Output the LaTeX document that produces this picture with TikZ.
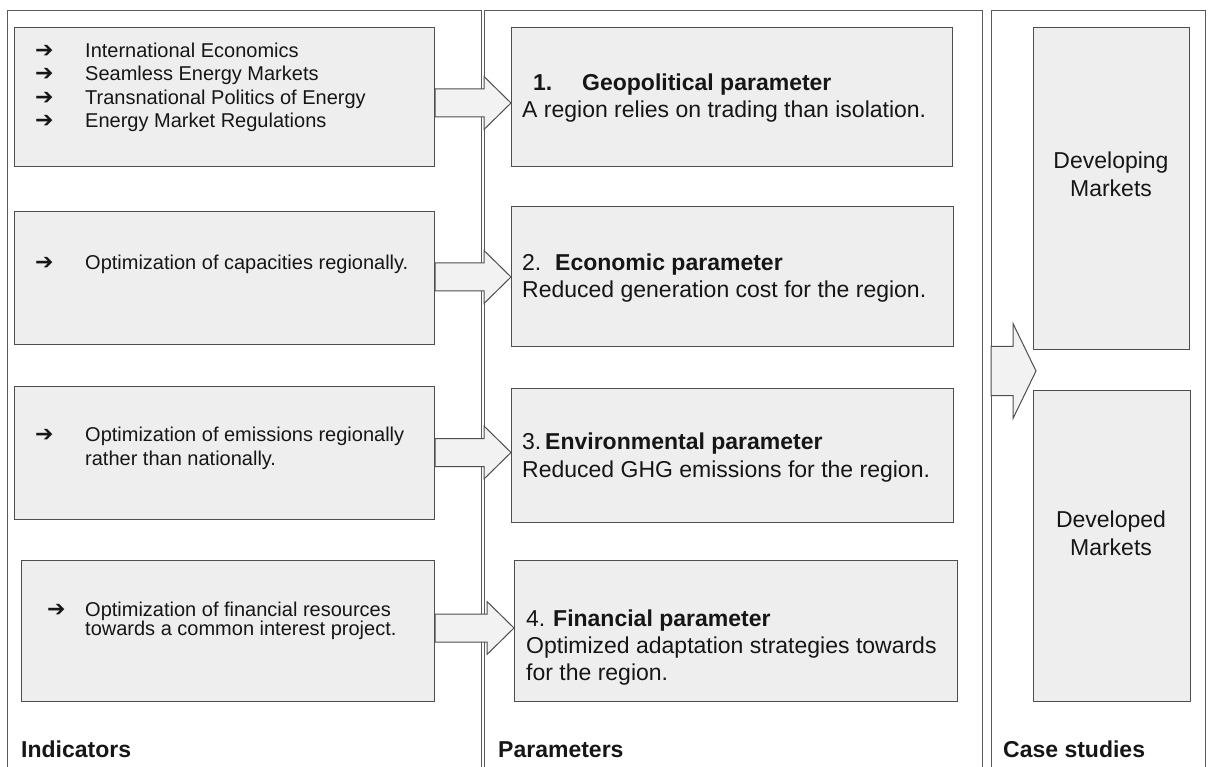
\documentclass[tikz,border=0pt]{standalone}
\usepackage{fontspec}
\setmainfont{Liberation Sans}
\newfontfamily\symfont{DejaVu Sans}
\usetikzlibrary{calc}
\definecolor{boxfill}{RGB}{238,238,238}
\definecolor{arrfill}{RGB}{242,242,242}
\definecolor{edge}{RGB}{78,78,78}
\definecolor{coledge}{RGB}{90,90,90}
\definecolor{ink}{RGB}{22,22,22}
\newcommand\blockarrow[5]{%
  \draw[barrow] ($(#1)+(0,-#3)$) -- ($(#2)+(-#5,-#3)$) -- ($(#2)+(-#5,-#4)$) -- (#2)
    -- ($(#2)+(-#5,#4)$) -- ($(#2)+(-#5,#3)$) -- ($(#1)+(0,#3)$) -- cycle;}
\tikzset{
  box/.style={draw=edge, fill=boxfill, line width=1.1pt, inner sep=0pt, anchor=north west},
  colline/.style={draw=coledge, line width=0.9pt},
  barrow/.style={draw=edge, fill=arrfill, line width=1pt, line join=miter},
  itext/.style={font=\fontsize{20}{24}\selectfont, text=ink, anchor=base west, inner sep=0pt},
  ptext/.style={font=\fontsize{23}{27}\selectfont, text=ink, anchor=base west, inner sep=0pt},
  btext/.style={font=\fontsize{23}{27}\selectfont\bfseries, text=ink, anchor=base west, inner sep=0pt},
  symb/.style={font=\symfont\bfseries\fontsize{22}{24}\selectfont, text=ink, anchor=base west, inner sep=0pt},
}
\begin{document}
\begin{tikzpicture}[x=1pt,y=-1pt]
\useasboundingbox (0,0) rectangle (1208,767);
% columns
\draw[colline] (7,767) -- (7,10) -- (481,10) -- (481,767);
\draw[colline] (484,767) -- (484,10) -- (982,10) -- (982,767);
\draw[colline] (991,767) -- (991,10) -- (1205,10) -- (1205,767);

% indicator boxes
\node[box, minimum width=420pt, minimum height=139pt] (i1) at (14,27) {};
\node[box, minimum width=420pt, minimum height=133pt] (i2) at (14,211) {};
\node[box, minimum width=420pt, minimum height=133pt] (i3) at (14,386) {};
\node[box, minimum width=413pt, minimum height=141pt] (i4) at (21,560) {};

% parameter boxes
\node[box, minimum width=441pt, minimum height=139pt] (p1) at (511,27) {};
\node[box, minimum width=442pt, minimum height=140pt] (p2) at (511,206) {};
\node[box, minimum width=442pt, minimum height=134pt] (p3) at (511,388) {};
\node[box, minimum width=443pt, minimum height=141pt] (p4) at (514,560) {};

% case boxes
\node[box, minimum width=156pt, minimum height=322pt] (dev) at (1033,27) {};
\node[box, minimum width=157pt, minimum height=311pt] (dvd) at (1033,390) {};

% indicator texts
\node[symb] (i1s1) at (35,57.5) {➔};
\node[symb] (i1s2) at (35,81) {➔};
\node[symb] (i1s3) at (35,104.5) {➔};
\node[symb] (i1s4) at (35,128) {➔};
\node[itext] (i1t1) at (85,57.5) {International Economics};
\node[itext] (i1t2) at (85,81) {Seamless Energy Markets};
\node[itext] (i1t3) at (85,104.5) {Transnational Politics of Energy};
\node[itext] (i1t4) at (85,128) {Energy Market Regulations};

\node[symb] (i2s) at (35,270) {➔};
\node[itext] (i2t) at (85,270) {Optimization of capacities regionally.};

\node[symb] (i3s) at (35,441.5) {➔};
\node[itext] (i3t1) at (85,441.5) {Optimization of emissions regionally};
\node[itext] (i3t2) at (85,465) {rather than nationally.};

\node[symb] (i4s) at (47,616) {➔};
\node[itext] (i4t1) at (85,616) {Optimization of financial resources};
\node[itext] (i4t2) at (85,635) {towards a common interest project.};

% parameter texts
\node[btext] (p1n) at (533,91) {1.};
\node[btext] (p1h) at (582,91) {Geopolitical parameter};
\node[ptext] (p1t) at (522,118) {A region relies on trading than isolation.};

\node[ptext] (p2n) at (522,271) {2.};
\node[btext] (p2h) at (555,271) {Economic parameter};
\node[ptext] (p2t) at (522,298) {Reduced generation cost for the region.};

\node[ptext] (p3n) at (522,449) {3.};
\node[btext] (p3h) at (545,449) {Environmental parameter};
\node[ptext] (p3t) at (522,477) {Reduced GHG emissions for the region.};

\node[ptext] (p4n) at (526,626) {4.};
\node[btext] (p4h) at (553,626) {Financial parameter};
\node[ptext] (p4t1) at (526,653) {Optimized adaptation strategies towards};
\node[ptext] (p4t2) at (526,680) {for the region.};

% case texts
\node[ptext, anchor=base] (devt1) at (1111,169) {Developing};
\node[ptext, anchor=base] (devt2) at (1111,197) {Markets};
\node[ptext, anchor=base] (dvdt1) at (1111,527) {Developed};
\node[ptext, anchor=base] (dvdt2) at (1111,555) {Markets};

% column labels
\node[btext] (lind) at (21,757) {Indicators};
\node[btext] (lpar) at (498,757) {Parameters};
\node[btext] (lcase) at (1003,757) {Case studies};

% block arrows
\coordinate (a1) at (0,103);
\coordinate (a2) at (0,277);
\coordinate (a3) at (0,452.5);
\coordinate (a4) at (0,628);
\coordinate (s1) at (i1.east |- a1); \coordinate (t1) at (p1.west |- a1);
\coordinate (s2) at (i2.east |- a2); \coordinate (t2) at (p2.west |- a2);
\coordinate (s3) at (i3.east |- a3); \coordinate (t3) at (p3.west |- a3);
\coordinate (s4) at (i4.east |- a4); \coordinate (t4) at (p4.west |- a4);
\blockarrow{s1}{t1}{14}{26.5}{27}
\blockarrow{s2}{t2}{14}{26.5}{27}
\blockarrow{s3}{t3}{14}{26.5}{27}
\blockarrow{s4}{t4}{14}{26.5}{27}
\coordinate (c0) at (991,371);
\coordinate (c1) at (1036,371);
\blockarrow{c0}{c1}{24.5}{47.5}{23}
\end{tikzpicture}
\end{document}
